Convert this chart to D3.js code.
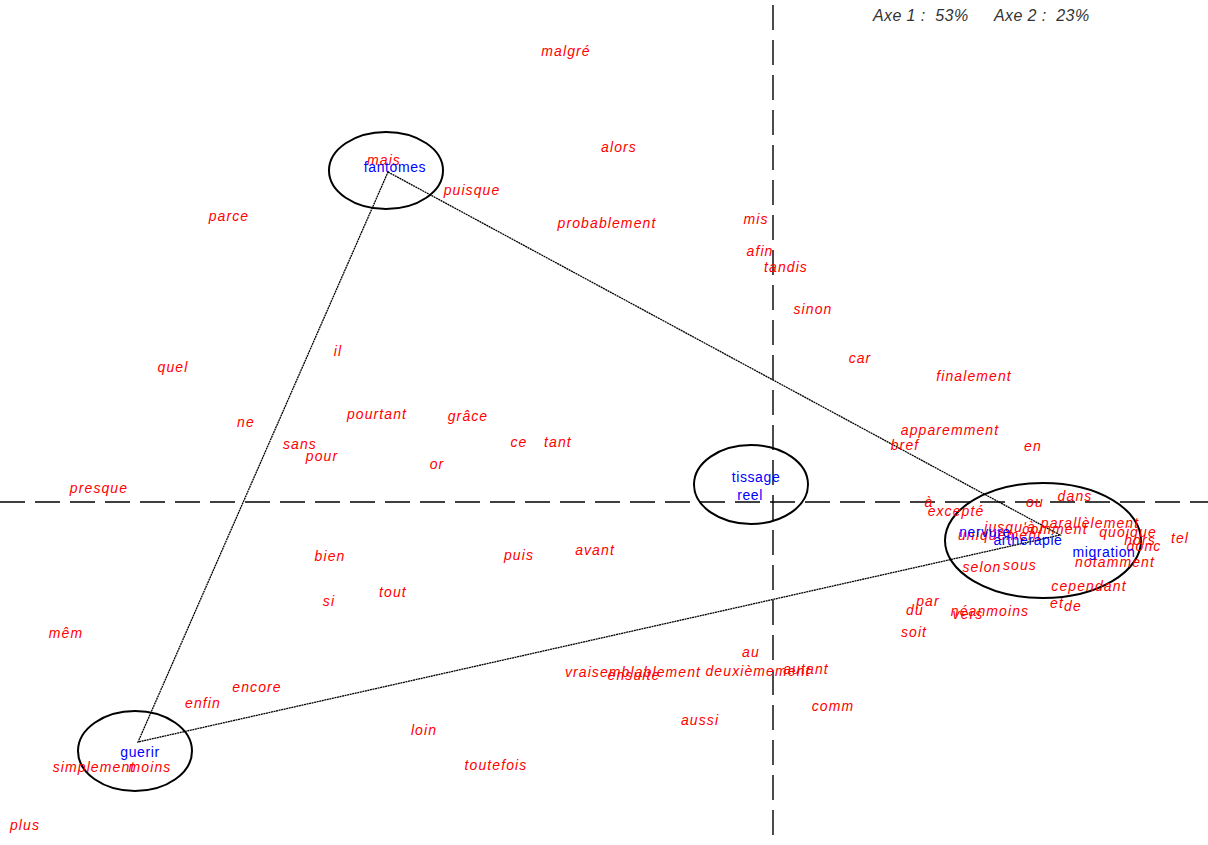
<!DOCTYPE html>
<html>
<head>
<meta charset="utf-8">
<script src="https://cdn.jsdelivr.net/npm/d3@7"></script>
<style>
  html, body { margin: 0; padding: 0; background: #fff; }
  svg { display: block; }
</style>
</head>
<body>
<svg id="chart" width="1208" height="845"></svg>
<script>
// Factor-plane coordinates (axis 1 horizontal, axis 2 vertical)

// Words (red, italic)
const words = ["malgré","alors","mais","puisque","parce","probablement","mis","afin","tandis","sinon","car","finalement",
  "quel","il","pourtant","grâce","ne","sans","pour","ce","tant","or","apparemment","bref","en","presque",
  "à","excepté","ou","dans","jusqu'à","uniquement","comment","parallèlement","quoique","hors","donc","tel",
  "selon","sous","notamment","cependant","et","de","par","du","néanmoins","vers","soit",
  "bien","puis","avant","si","tout","mêm","encore","enfin","au","vraisemblablement","ensuite","deuxièmement",
  "autant","comm","aussi","loin","toutefois","simplement","moins","plus"];
const wordX = [-0.414,-0.308,-0.778,-0.602,-1.088,-0.332,-0.034,-0.026,0.026,0.080,0.174,0.402,
  -1.200,-0.870,-0.792,-0.610,-1.054,-0.946,-0.902,-0.508,-0.430,-0.672,0.354,0.264,0.520,-1.348,
  0.312,0.366,0.524,0.604,0.474,0.454,0.564,0.634,0.710,0.734,0.742,0.814,
  0.418,0.494,0.684,0.632,0.568,0.600,0.310,0.284,0.434,0.390,0.282,
  -0.886,-0.508,-0.356,-0.888,-0.760,-1.414,-1.032,-1.140,-0.044,-0.280,-0.278,-0.030,
  0.066,0.120,-0.146,-0.698,-0.554,-1.358,-1.246,-1.496];
const wordY = [0.902,0.710,0.684,0.624,0.572,0.558,0.566,0.502,0.470,0.386,0.288,0.252,
  0.270,0.302,0.176,0.172,0.160,0.116,0.092,0.120,0.120,0.076,0.144,0.114,0.112,0.028,
  0.000,-0.018,0.000,0.012,-0.050,-0.066,-0.054,-0.042,-0.060,-0.076,-0.088,-0.072,
  -0.130,-0.126,-0.120,-0.168,-0.202,-0.208,-0.198,-0.216,-0.218,-0.224,-0.260,
  -0.108,-0.106,-0.096,-0.198,-0.180,-0.262,-0.370,-0.402,-0.300,-0.340,-0.346,-0.338,
  -0.334,-0.408,-0.436,-0.456,-0.526,-0.530,-0.530,-0.646];

// Texts (blue)
const texts = ["fantomes","tissage","reel","guerir","nervure","artherapie","migration"];
const textX = [-0.756,-0.034,-0.046,-1.266,0.424,0.510,0.662];
const textY = [0.670,0.050,0.014,-0.500,-0.060,-0.076,-0.100];

// Triangle joining the three main text groups
const triX = [-0.770,0.574,-1.270];
const triY = [0.660,-0.066,-0.480];

// Group ellipses: centre and semi-axes in plane units
const ellX = [-0.774,-0.044,-1.276,0.540];
const ellY = [0.663,0.035,-0.498,-0.077];
const ellRX = [0.114,0.114,0.114,0.196];
const ellRY = [0.077,0.079,0.080,0.115];

// Inertia explained per axis
const axisLabels = ["Axe 1 :  53%", "Axe 2 :  23%"];

const W = 1208, H = 845;
const svg = d3.select("#chart");

const x = d3.scaleLinear().domain([-1.546, 0.870]).range([0, W]);
const y = d3.scaleLinear().domain([1.004, -0.686]).range([0, H]);
const kx = x(1) - x(0), ky = y(0) - y(1);

// Dashed axes through the origin
svg.append("line")
  .attr("x1", 0).attr("x2", W).attr("y1", y(0)).attr("y2", y(0))
  .attr("stroke", "#000").attr("stroke-width", 1.4).attr("stroke-dasharray", "25,10");
svg.append("line")
  .attr("x1", x(0)).attr("x2", x(0)).attr("y1", 5).attr("y2", H)
  .attr("stroke", "#000").attr("stroke-width", 1.4).attr("stroke-dasharray", "25,10");

// Triangle
const tri = triX.map((v, i) => [x(v), y(triY[i])]);
svg.append("path")
  .attr("d", d3.line()(tri.concat([tri[0]])))
  .attr("fill", "none").attr("stroke", "#000").attr("stroke-width", 1.3)
  .attr("stroke-dasharray", "2,0.6");

// Ellipses
svg.selectAll("ellipse.grp").data(ellX).join("ellipse")
  .attr("class", "grp")
  .attr("cx", d => x(d))
  .attr("cy", (d, i) => y(ellY[i]))
  .attr("rx", (d, i) => ellRX[i] * kx)
  .attr("ry", (d, i) => ellRY[i] * ky)
  .attr("fill", "none").attr("stroke", "#000").attr("stroke-width", 2);

// Word labels
svg.selectAll("text.word").data(words).join("text")
  .attr("class", "word")
  .attr("x", (d, i) => x(wordX[i]))
  .attr("y", (d, i) => y(wordY[i]))
  .attr("dy", "0.35em")
  .attr("text-anchor", "middle")
  .attr("font-family", "'Liberation Sans', Arial, sans-serif")
  .attr("font-style", "italic")
  .attr("font-size", 14)
  .attr("letter-spacing", 1.1)
  .attr("fill", "#ff0000")
  .text(d => d);

// Text labels
svg.selectAll("text.doc").data(texts).join("text")
  .attr("class", "doc")
  .attr("x", (d, i) => x(textX[i]))
  .attr("y", (d, i) => y(textY[i]))
  .attr("dy", "0.35em")
  .attr("text-anchor", "middle")
  .attr("font-family", "'Liberation Sans', Arial, sans-serif")
  .attr("font-size", 14)
  .attr("letter-spacing", 0.6)
  .attr("fill", "#0000ff")
  .text(d => d);

// Header with axis inertia
svg.selectAll("text.hdr").data(axisLabels).join("text")
  .attr("class", "hdr")
  .attr("x", (d, i) => 873 + i * 121)
  .attr("y", 21)
  .attr("font-family", "'Liberation Sans', Arial, sans-serif")
  .attr("font-style", "italic")
  .attr("font-size", 16)
  .attr("letter-spacing", 0.4)
  .attr("fill", "#333")
  .attr("xml:space", "preserve")
  .style("white-space", "pre")
  .text(d => d);
</script>
</body>
</html>
